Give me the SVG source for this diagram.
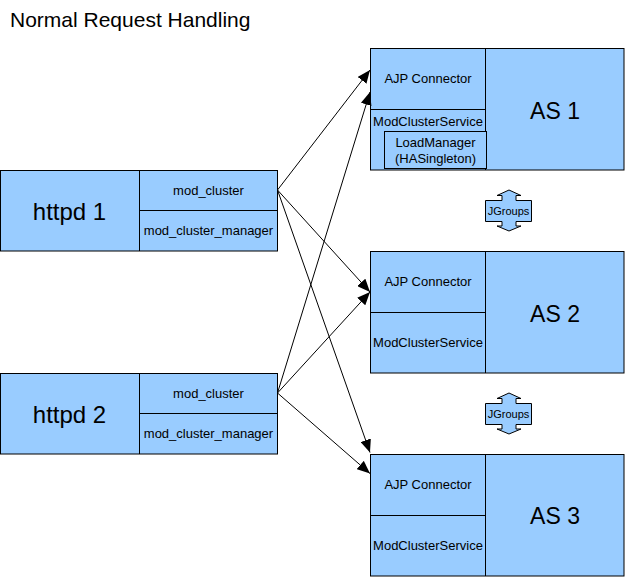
<svg xmlns="http://www.w3.org/2000/svg" width="625" height="577" viewBox="0 0 625 577">
<defs>
<marker id="ah" markerUnits="userSpaceOnUse" markerWidth="13" markerHeight="11" refX="13" refY="5.5" orient="auto">
<path d="M0,0 L13,5.5 L0,11 z" fill="#000"/>
</marker>
<style>
.box{fill:#99ccff;stroke:#000;stroke-width:1}
.div{stroke:#000;stroke-width:1;fill:none}
text{font-family:"Liberation Sans",Arial,sans-serif;fill:#000;text-anchor:middle}
.s{font-size:13px}
.b{font-size:24px}
.a{font-size:23px}
.j{font-size:11px}
.conn line{stroke:#000;stroke-width:1;marker-end:url(#ah)}
</style>
</defs>
<rect width="625" height="577" fill="#fff"/>
<g id="title"><text x="10" y="26.5" style="font-size:21px;text-anchor:start">Normal Request Handling</text></g>

<g id="httpd1">
<rect class="box" x="0.5" y="170.5" width="277" height="80.5"/>
<line class="div" x1="139.5" y1="170.5" x2="139.5" y2="251"/>
<line class="div" x1="139.5" y1="210.5" x2="277.5" y2="210.5"/>
<text class="b" x="69.5" y="219.5">httpd 1</text>
<text class="s" x="208.5" y="195">mod_cluster</text>
<text class="s" x="208.5" y="235">mod_cluster_manager</text>
</g>

<g id="httpd2">
<rect class="box" x="0.5" y="373.5" width="277" height="80.5"/>
<line class="div" x1="139.5" y1="373.5" x2="139.5" y2="454"/>
<line class="div" x1="139.5" y1="413.5" x2="277.5" y2="413.5"/>
<text class="b" x="69.5" y="422.5">httpd 2</text>
<text class="s" x="208.5" y="398">mod_cluster</text>
<text class="s" x="208.5" y="438">mod_cluster_manager</text>
</g>

<g id="as1">
<rect class="box" x="370.5" y="48.5" width="253.5" height="121.5"/>
<line class="div" x1="485.5" y1="48.5" x2="485.5" y2="170"/>
<line class="div" x1="370.5" y1="109.5" x2="485.5" y2="109.5"/>
<rect class="box" x="384.5" y="131.5" width="102" height="37"/>
<text class="a" x="555" y="118.5">AS 1</text>
<text class="s" x="428" y="83">AJP Connector</text>
<text class="s" x="428" y="125.5">ModClusterService</text>
<text class="s" x="435.5" y="147">LoadManager</text>
<text class="s" x="435.5" y="163">(HASingleton)</text>
</g>

<g id="as2">
<rect class="box" x="370.5" y="251.5" width="253.5" height="121.5"/>
<line class="div" x1="485.5" y1="251.5" x2="485.5" y2="373"/>
<line class="div" x1="370.5" y1="312.5" x2="485.5" y2="312.5"/>
<text class="a" x="555" y="321.5">AS 2</text>
<text class="s" x="428" y="286">AJP Connector</text>
<text class="s" x="428" y="346.5">ModClusterService</text>
</g>

<g id="as3">
<rect class="box" x="370.5" y="454.5" width="253.5" height="121.5"/>
<line class="div" x1="485.5" y1="454.5" x2="485.5" y2="576"/>
<line class="div" x1="370.5" y1="515.5" x2="485.5" y2="515.5"/>
<text class="a" x="555" y="523.5">AS 3</text>
<text class="s" x="428" y="489">AJP Connector</text>
<text class="s" x="428" y="549.5">ModClusterService</text>
</g>

<g id="jgroups1">
<polygon class="box" points="509,190 521,195.5 516,195.5 516,200.5 531.5,200.5 531.5,221.5 516,221.5 516,226 521,226 509,231 497,226 502,226 502,221.5 485.5,221.5 485.5,200.5 502,200.5 502,195.5 497,195.5"/>
<text class="j" x="508.5" y="214.5">JGroups</text>
</g>

<g id="jgroups2">
<polygon class="box" points="509,393 521,398.5 516,398.5 516,403.5 531.5,403.5 531.5,424.5 516,424.5 516,429 521,429 509,434 497,429 502,429 502,424.5 485.5,424.5 485.5,403.5 502,403.5 502,398.5 497,398.5"/>
<text class="j" x="508.5" y="417.5">JGroups</text>
</g>

<g id="connectors" class="conn">
<line x1="277.5" y1="190" x2="370" y2="70"/>
<line x1="277.5" y1="190" x2="370" y2="292"/>
<line x1="277.5" y1="190" x2="370" y2="452.5"/>
<line x1="277.5" y1="393" x2="370" y2="92"/>
<line x1="277.5" y1="393" x2="370" y2="292"/>
<line x1="277.5" y1="393" x2="370" y2="473.5"/>
</g>
</svg>
